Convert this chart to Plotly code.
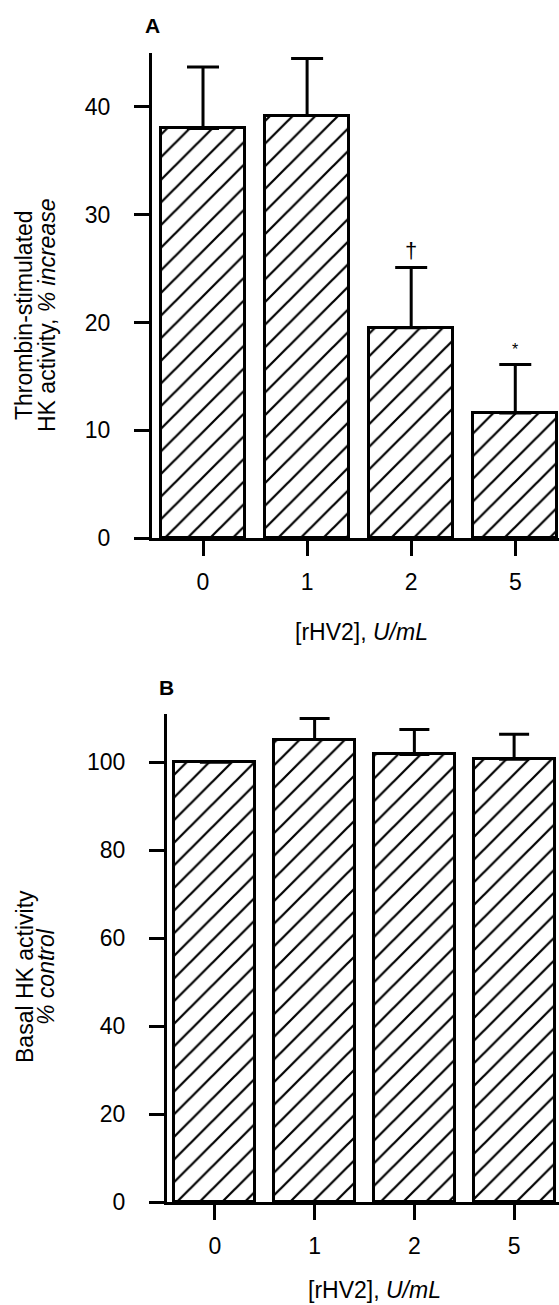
import plotly.graph_objects as go

# ---- data ----
doses = ["0", "1", "2", "5"]
positions = [0, 1, 2, 3]
thrombin_vals = [38.0, 39.2, 19.5, 11.6]
thrombin_errs = [5.7, 5.3, 5.6, 4.5]
thrombin_marks = ["", "", "†", "*"]
basal_vals = [100.0, 105.2, 101.8, 100.7]
basal_errs = [0.0, 4.8, 5.7, 5.7]
ytick_a = [0, 10, 20, 30, 40]
ytick_b = [0, 20, 40, 60, 80, 100]

W, H = 559, 1305
FONT = "Liberation Sans, Arial, Helvetica, sans-serif"
FS = 23

def bar_trace(vals, errs, xa, ya, cap):
    return go.Bar(
        x=positions, y=vals, width=0.81,
        xaxis=xa, yaxis=ya,
        marker=dict(
            color="white",
            line=dict(color="black", width=3),
            pattern=dict(shape="/", fgcolor="black", bgcolor="white",
                         fgopacity=1, size=16, solidity=0.14),
        ),
        error_y=dict(type="data", array=errs, arrayminus=[0] * len(errs),
                     symmetric=False, color="black", thickness=3, width=cap),
        showlegend=False, hoverinfo="skip",
    )

fig = go.Figure()
fig.add_trace(bar_trace(thrombin_vals, thrombin_errs, "x", "y", 16))
fig.add_trace(bar_trace(basal_vals, basal_errs, "x2", "y2", 15))

def py(p):
    return (H - p) / H

axis_common = dict(showline=True, linecolor="black", linewidth=3,
                   ticks="outside", ticklen=15, tickwidth=3, tickcolor="black",
                   showgrid=False, zeroline=False, automargin=False,
                   tickfont=dict(family=FONT, size=FS, color="black"))

fig.update_layout(
    width=W, height=H,
    margin=dict(l=0, r=0, t=0, b=0, pad=0, autoexpand=False),
    paper_bgcolor="white", plot_bgcolor="white",
    font=dict(family=FONT, size=FS, color="black"),
    bargap=0,
    xaxis=dict(domain=[152 / W, 1.0], anchor="y", range=[-0.49, 3.42],
               tickvals=positions, ticktext=doses, ticklabelstandoff=6,
               **axis_common),
    yaxis=dict(domain=[py(538), py(53)], anchor="x", range=[0, 45],
               tickvals=ytick_a, ticklabelstandoff=19, **axis_common),
    xaxis2=dict(domain=[167 / W, 1.0], anchor="y2", range=[-0.48, 3.45],
                tickvals=positions, ticktext=doses, ticklabelstandoff=6,
                **axis_common),
    yaxis2=dict(domain=[py(1202), py(714)], anchor="x2", range=[0, 111],
                tickvals=ytick_b, ticklabelstandoff=19, **axis_common),
)

ann = []
# significance marks
for xp, v, e, m in zip(positions, thrombin_vals, thrombin_errs, thrombin_marks):
    if m:
        ann.append(dict(x=xp, y=v + e, xref="x", yref="y", text=m,
                        showarrow=False, xanchor="center", yanchor="bottom",
                        yshift=2 if m == "†" else 4,
                        font=dict(family=FONT, size=22 if m == "†" else 16,
                                  color="black")))

def pann(x, y, text, **kw):
    d = dict(x=x / W, y=py(y), xref="paper", yref="paper", text=text,
             showarrow=False, xanchor="center", yanchor="middle")
    d.update(kw)
    return d

# panel letters
ann.append(pann(152, 25, "<b>A</b>", font=dict(family=FONT, size=21, color="black")))
ann.append(pann(166, 688, "<b>B</b>", font=dict(family=FONT, size=21, color="black")))
# x titles
ann.append(pann(361, 632, "[rHV2], <i>U/mL</i>"))
ann.append(pann(374, 1290, "[rHV2], <i>U/mL</i>"))
# y titles
ann.append(pann(24, 315, "Thrombin-stimulated", textangle=-90))
ann.append(pann(47, 315, "HK activity, <i>% increase</i>", textangle=-90))
ann.append(pann(25, 977, "Basal HK activity", textangle=-90))
ann.append(pann(46, 977, "<i>% control</i>", textangle=-90))

fig.update_layout(annotations=ann)
fig.write_html("out.html")
